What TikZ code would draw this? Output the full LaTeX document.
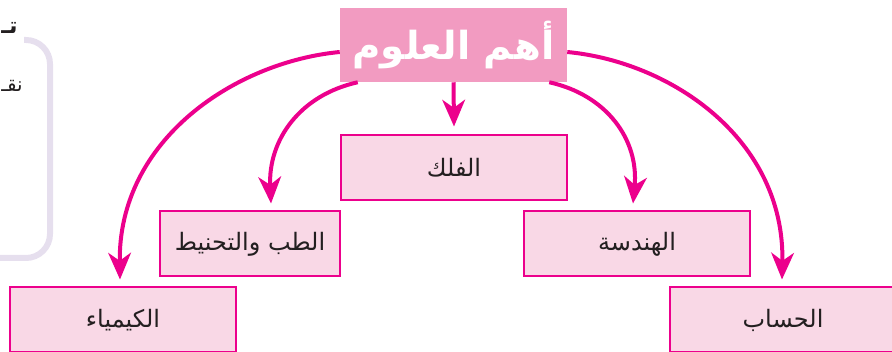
\documentclass[tikz,border=0pt]{standalone}
\usepackage{fontspec}
\usetikzlibrary{arrows.meta,calc}
\TeXXeTstate=1
\newfontfamily\arabicfont[Script=Arabic]{DejaVu Sans}
\newdimen\pxu \pxu=0.75pt
\definecolor{mag}{HTML}{EC008C}
\definecolor{boxfill}{HTML}{F9D8E6}
\definecolor{titlefill}{HTML}{F29BC1}
\definecolor{txt}{HTML}{231F20}
\definecolor{lav}{HTML}{E6DFEE}
\tikzset{
  x=0.75pt, y=-0.75pt,
  topicbox/.style={draw=mag, line width=1.5pt, fill=boxfill, minimum width=226\pxu, minimum height=65\pxu, inner sep=0pt, text=txt, font=\arabicfont\fontsize{18}{21}\selectfont},
  titlebox/.style={fill=titlefill, minimum width=227\pxu, minimum height=74\pxu, inner sep=0pt, text=white, font=\arabicfont\bfseries\fontsize{29}{34}\selectfont},
  link/.style={draw=mag, line width=3pt, -{Stealth[length=20pt,width=17pt,inset=6pt]}},
}
\begin{document}
\begin{tikzpicture}
\useasboundingbox (0,0) rectangle (892,352);
% partial side panel
\draw[lav, line width=4.5pt] (24,40) -- (26,40) arc[start angle=90, end angle=0, radius=24\pxu] -- (50,234) arc[start angle=0, end angle=-90, radius=24\pxu] -- (-10,258);
\node[anchor=west, inner sep=0pt, text=txt, font=\arabicfont\bfseries\fontsize{17}{20}\selectfont] (headcut) at (1,28) {\beginR تـ\endR};
\node[anchor=west, inner sep=0pt, text=txt, font=\arabicfont\fontsize{15}{18}\selectfont] (linecut) at (1,86) {\beginR نقـ\endR};
% nodes
\node[titlebox] (title) at (453.5,45) {\beginR أهم العلوم\endR};
\node[topicbox] (falak) at (454,168) {\beginR الفلك\endR};
\node[topicbox, minimum width=180\pxu] (tibb) at (250,244) {\beginR الطب والتحنيط\endR};
\node[topicbox] (handasa) at (637,244) {\beginR الهندسة\endR};
\node[topicbox] (kimiya) at (123,320) {\beginR الكيمياء\endR};
\node[topicbox] (hisab) at (783,320) {\beginR الحساب\endR};
% connectors
\draw[link] (title.south) -- ($(falak.north)+(0,-8)$);
\draw[link] ($(title.south west)+(18,0)$) .. controls (300,95) and (268,140) .. ($(tibb.north)+(21,-7)$);
\draw[link] ($(title.south east)+(-18,0)$) .. controls (607,95) and (639,140) .. ($(handasa.north)+(-4,-7)$);
\draw[link] ($(title.west)+(0,7)$) .. controls (235,62) and (118,140) .. ($(kimiya.north)+(-3,-7)$);
\draw[link] ($(title.east)+(0,7)$) .. controls (672,62) and (785,140) .. ($(hisab.north)+(-1,-7)$);
\end{tikzpicture}
\end{document}
